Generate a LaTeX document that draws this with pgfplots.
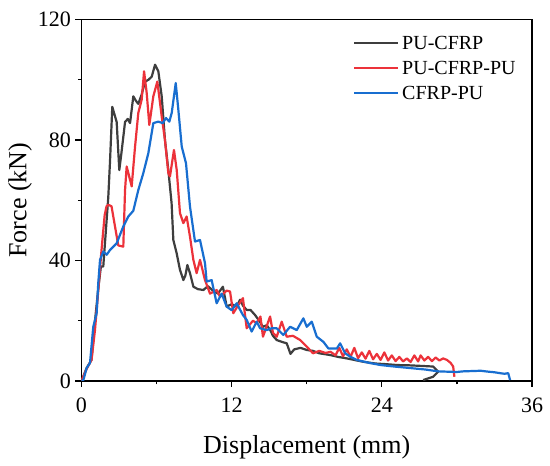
\documentclass[border=0pt]{standalone}
\usepackage{pgfplots}
\pgfplotsset{compat=1.18}
\usepackage{fontspec}
\setmainfont{Liberation Serif}
\definecolor{cblack}{RGB}{62,62,62}
\definecolor{cred}{RGB}{236,50,58}
\definecolor{cblue}{RGB}{24,110,208}
\begin{document}
\begin{tikzpicture}
\begin{axis}[
  scale only axis, width=450.5pt, height=361.5pt,
  xmin=0, xmax=36, ymin=0, ymax=120,
  xtick={0,12,24,36}, ytick={0,40,80,120},
  minor x tick num=1, minor y tick num=1,
  xtick pos=bottom, ytick pos=left,
  tick align=outside,
  major tick length=6pt, minor tick length=3.5pt,
  every tick/.style={black, line width=1.3pt},
  axis line style={line width=1.3pt},
  /pgf/number format/assume math mode=true,
  ticklabel style={font=\fontsize{22}{26}\selectfont, inner sep=0pt},
  xticklabel style={anchor=north, yshift=-10.5pt},
  yticklabel style={anchor=east, xshift=-4.5pt},
  xlabel={Displacement (mm)}, ylabel={Force (kN)},
  label style={font=\fontsize{26}{30}\selectfont, inner sep=0pt},
  xlabel style={at={(rel axis cs:0.5,0)}, anchor=north, yshift=-54pt},
  ylabel style={at={(rel axis cs:0,0.5)}, anchor=south, yshift=49.5pt},
  legend style={draw=none, fill=none, at={(rel axis cs:0.6027,0.955)}, anchor=north west,
    font=\fontsize{20}{24}\selectfont, inner sep=0pt, outer sep=0pt,
    row sep=7pt,
    nodes={inner sep=0pt, text height=14pt, text depth=4pt},
    /tikz/every odd column/.style={column sep=3pt}},
  legend cell align=left,
  legend image code/.code={\draw[#1] (0pt,2pt) -- (44pt,2pt);},
  every axis plot/.append style={line width=2.2pt, line join=round},
]
\addplot[cblack] coordinates {
(0,0) (0.41,4.3) (0.8,7) (1.08,20) (1.35,31) (1.55,38) (1.74,38) (1.95,50) (2.14,61) (2.28,73)
(2.46,91) (2.6,89) (2.81,86) (3.02,70) (3.2,76) (3.48,86) (3.7,87) (3.88,85.6) (4.14,94.5) (4.35,93)
(4.54,92) (4.8,95) (5.08,99.4) (5.35,100) (5.61,101) (5.88,105) (6.14,102.8) (6.41,94.5) (6.67,80) (6.94,70)
(7.2,59) (7.34,46.8) (7.6,42.5) (7.87,36.9) (8.14,33.5) (8.3,35) (8.46,38.5) (8.67,35.8) (8.94,31.3) (9.3,30.5)
(9.74,30.2) (10.1,31.5) (10.5,30) (10.9,29) (11.3,31.3) (11.6,24.7) (12.0,25.5) (12.4,24.7) (12.67,27) (12.9,25)
(13.2,23.6) (13.5,23.6) (13.87,21.9) (14.2,20) (14.5,18) (14.8,18.5) (15.07,17) (15.3,15) (15.6,13.6) (16.0,13)
(16.4,12.5) (16.7,9) (17.0,10.5) (17.5,11) (18,10.3) (18.5,10) (19.0,9.2) (19.9,8.6) (20.5,8) (21.2,7.5)
(22.5,6.4) (23.5,5.8) (24.3,5.6) (25.2,5.3) (26.2,5.2) (27.2,5) (28.1,4.8) (28.5,3.1) (28.1,1.4) (27.3,0.3)
};
\addlegendentry{PU-CFRP}
\addplot[cred] coordinates {
(0,0) (0.41,4) (0.8,7) (1.08,17) (1.3,28) (1.6,43.5) (1.85,55) (2.0,58) (2.14,58.5) (2.4,58)
(2.54,54.6) (2.94,45) (3.34,44.6) (3.48,63.4) (3.61,71.2) (4.01,64.6) (4.28,77.8) (4.54,89) (4.81,93.4) (5.0,102.8)
(5.21,95.6) (5.42,85) (5.74,94.5) (6.06,99.4) (6.41,87.8) (6.67,80) (6.94,69) (7.07,67.9) (7.39,76.7) (7.61,70)
(7.87,55.7) (8.14,52.4) (8.4,54.6) (8.67,47.9) (8.94,40.2) (9.2,35.8) (9.47,40.2) (9.87,33.5) (10.27,29) (10.8,30.2)
(11.07,28) (11.6,30) (11.87,29.7) (12.13,22.5) (12.5,25) (12.9,27.5) (13.2,17.5) (13.7,20) (14.0,19.2) (14.3,21.4)
(14.5,14.7) (15.07,21.4) (15.3,16) (15.6,14.7) (16.0,19.7) (16.4,14.7) (16.9,15) (17.47,13.6) (18.0,11.4) (18.5,9.2)
(19.0,10) (19.5,9.3) (19.9,9.7) (20.3,8.5) (20.6,11) (20.9,8.2) (21.2,10.5) (21.5,8) (21.8,11) (22.1,7.6)
(22.4,9.5) (22.7,7.4) (23.0,10) (23.3,7.2) (23.6,9) (23.9,7) (24.2,9.5) (24.5,6.8) (24.8,8.5) (25.1,6.6)
(25.4,8) (25.7,6.5) (26.0,7.5) (26.3,6.3) (26.6,8.5) (26.9,6.5) (27.1,8.5) (27.4,6.8) (27.7,8) (28.0,6.6)
(28.3,7.8) (28.6,6.8) (28.9,7.5) (29.2,7) (29.5,6) (29.7,4.8) (29.8,1.4)
};
\addlegendentry{PU-CFRP-PU}
\addplot[cblue] coordinates {
(0,0) (0.15,0.3) (0.41,4.3) (0.68,6) (0.94,18) (1.21,22.5) (1.34,32.5) (1.48,40.2) (1.74,43) (2.01,41.9)
(2.28,43.5) (2.81,45.7) (3.34,51.3) (3.74,54.6) (4.14,56.5) (4.54,63.4) (4.94,69) (5.34,75.6) (5.74,85.6) (6.14,86.1)
(6.49,85.6) (6.75,87.3) (7.02,86.1) (7.21,89) (7.53,98.9) (7.74,90) (8.01,77.8) (8.35,72.3) (8.67,57.9) (9.07,46.3)
(9.47,46.8) (9.87,39.1) (10.0,33) (10.4,33.5) (10.8,25.8) (11.2,29) (11.6,24.7) (12.0,23.5) (12.4,25.8) (12.9,21.9)
(13.2,20.3) (13.6,16.4) (14.0,19.7) (14.27,17.5) (14.8,16.9) (15.2,17.5) (15.6,17.5) (16.13,15.3) (16.67,18) (17.2,16.9)
(17.73,20.8) (18.0,18) (18.4,19.7) (18.8,14.7) (19.33,13) (19.73,10.8) (20.4,10.8) (20.67,12.5) (21.07,9.2) (21.5,8)
(22.0,7) (23,6) (23.9,5.3) (25,4.8) (26.5,4.2) (27.5,3.8) (28.5,3.2) (29.2,3.1) (30,3) (30.5,3.2)
(31.2,3.3) (31.9,3.4) (32.5,3.1) (33.0,2.9) (33.45,2.6) (33.8,2.4) (34.1,2.6) (34.25,0.3)
};
\addlegendentry{CFRP-PU}
\end{axis}
\pgfresetboundingbox
\path (current axis.south west) ++(-81.5pt,-85pt) rectangle ++(550pt,466pt);
\end{tikzpicture}
\end{document}
